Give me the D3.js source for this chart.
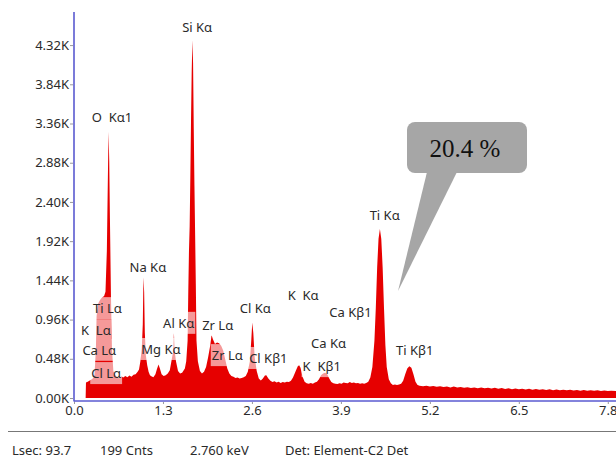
<!DOCTYPE html>
<html><head><meta charset="utf-8">
<script src="https://cdn.jsdelivr.net/npm/d3@7"></script>
<style>
html,body{margin:0;padding:0;background:#fff;}
svg{display:block;font-family:"Noto Sans",sans-serif;}
.lbl{white-space:pre;}
</style></head>
<body>
<svg id="c" width="616" height="459"></svg>
<script>
// Spectrum: energy (keV) and counts
const energy = [0.17,0.175,0.20,0.23,0.26,0.29,0.30,0.32,0.33,0.35,0.38,0.41,0.44,0.46,0.48,0.495,0.505,0.515,0.525,0.54,0.555,0.575,0.60,
 0.63,0.66,0.69,0.72,0.75,0.78,0.81,0.84,0.87,0.90,0.93,0.95,0.97,0.99,1.005,1.015,1.025,1.035,1.05,1.07,1.09,1.11,
 1.13,1.16,1.19,1.21,1.235,1.255,1.28,1.31,1.34,1.37,1.40,1.43,1.45,1.46,1.47,1.49,1.52,1.55,
 1.58,1.62,1.64,1.66,1.67,1.68,1.69,1.70,1.71,1.72,1.73,1.74,1.75,1.76,1.77,1.78,1.79,1.81,1.84,1.87,1.90,
 1.93,1.96,1.99,2.01,2.03,2.06,2.09,2.12,2.15,2.18,2.21,2.24,2.27,2.30,2.33,2.36,2.39,2.42,2.45,2.48,2.51,
 2.54,2.57,2.59,2.605,2.62,2.64,2.67,2.70,2.73,2.76,2.79,2.81,2.84,2.87,2.90,2.93,2.96,2.99,3.02,3.05,3.08,3.11,3.14,3.17,
 3.20,3.24,3.27,3.29,3.31,3.34,3.37,3.40,3.43,3.46,3.49,3.52,3.55,3.58,3.61,3.64,3.67,3.70,3.73,3.76,3.79,3.82,3.85,
 3.88,3.91,3.94,3.97,4.00,4.03,4.06,4.09,4.12,4.15,4.18,4.21,4.24,4.27,4.30,4.33,4.36,4.39,4.41,4.43,4.45,4.47,4.49,4.51,4.53,4.55,4.57,4.60,
 4.63,4.66,4.69,4.72,4.75,4.78,4.81,4.84,4.87,4.90,4.93,4.96,4.99,5.02,5.05,
 5.10,5.15,5.20,5.25,5.30,5.35,5.40,5.45,5.50,5.55,5.60,5.65,5.70,5.75,5.80,5.85,5.90,5.95,6.00,6.05,6.10,6.15,6.20,6.25,6.30,6.35,6.40,6.45,6.50,
 6.55,6.60,6.65,6.70,6.75,6.80,6.85,6.90,6.95,7.00,7.05,7.10,7.15,7.20,7.25,7.30,7.35,7.40,7.45,7.50,7.55,7.60,7.65,7.70,7.75,7.80,7.85,7.92];
const counts = [0,190,200,215,230,250,290,600,1000,1150,1200,1230,1250,1300,1800,2700,3260,2900,2200,1250,600,330,280,
 260,240,265,250,270,255,275,260,285,290,320,350,450,600,900,1480,1300,800,520,400,320,280,
 265,255,290,350,410,360,290,270,280,300,340,480,570,800,580,450,330,300,
 310,360,450,700,1300,1800,2100,2700,3400,4000,4380,4100,3300,2600,2000,1400,700,450,330,300,320,
 380,500,640,770,720,660,680,670,640,580,470,360,300,270,260,245,250,240,245,255,270,
 320,450,700,925,800,500,330,240,215,240,275,280,240,210,195,205,190,200,185,195,190,200,195,210,
 250,330,390,400,370,260,200,180,175,185,175,190,200,230,280,300,310,290,240,195,180,175,170,
 180,175,190,185,180,195,185,190,180,185,175,180,175,185,200,250,380,700,1100,1600,1950,2070,1950,1600,1100,650,380,230,
 180,160,165,160,165,175,210,290,360,390,370,290,200,160,150,
 145,150,140,148,138,145,135,142,130,140,128,136,125,133,122,130,120,128,118,126,115,124,112,122,110,118,108,116,106,
 114,104,112,102,110,100,108,98,106,96,104,95,102,94,100,92,99,90,98,89,96,88,94,87,92,86,90,85];

const yTicks = [0,480,960,1440,1920,2400,2880,3360,3840,4320];
const xTicks = [0,1.3,2.6,3.9,5.2,6.5,7.8];

// Peak labels: name, energy anchor (keV), count anchor
const labelNames  = ["Si Kα","O  Kα1","Na Kα","Ti Lα","K  Lα","Ca Lα","Cl Lα","Mg Kα","Al Kα","Zr Lα","Zr Lα","Cl Kα","Cl Kβ1","K  Kα","Ca Kβ1","Ca Kα","K  Kβ1","Ti Kα","Ti Kβ1"];
const labelEnergy = [1.80,0.555,1.08,0.49,0.32,0.37,0.47,1.27,1.53,2.10,2.24,2.65,2.84,3.35,4.04,3.72,3.62,4.54,4.98];
const labelCounts = [4540,3440,1600,1100,830,590,305,600,920,895,525,1100,490,1260,1050,670,390,2240,590];

const footer = ["Lsec: 93.7","199 Cnts","2.760 keV","Det: Element-C2 Det"];
const calloutText = "20.4 %";
const calloutTip = [4.735, 1310];

const svg = d3.select("#c");
const x = d3.scaleLinear().domain([0,7.92]).range([74,616]);
const y = d3.scaleLinear().domain([0,4725]).range([398,12]);

const pts = energy.map((e,i)=>[e,counts[i]]);
svg.append("path").datum(pts)
  .attr("fill","#e60000")
  .attr("d", d3.area().x(d=>x(d[0])).y0(y(0)).y1(d=>y(d[1])));

// axes
const axisColor = "#5a5ad0";
svg.append("line").attr("x1",74).attr("x2",74).attr("y1",12).attr("y2",401.5)
  .attr("stroke",axisColor).attr("stroke-width",1.6);
svg.append("line").attr("x1",74).attr("x2",616).attr("y1",401).attr("y2",401)
  .attr("stroke",axisColor).attr("stroke-width",1.6);

const gy = svg.append("g").attr("transform","translate(73,0)")
  .call(d3.axisLeft(y).tickValues(yTicks).tickFormat(d=>(d/1000).toFixed(2)+"K").tickSize(3).tickPadding(1));
gy.select(".domain").remove();
gy.selectAll("text").attr("fill","#2a2a2a").style("font-size","13px").style("font-family","Noto Sans");
gy.selectAll("line").attr("stroke","#999");

const gx = svg.append("g").attr("transform","translate(0,402)")
  .call(d3.axisBottom(x).tickValues(xTicks).tickFormat(d=>d.toFixed(1)).tickSize(2).tickPadding(2));
gx.select(".domain").remove();
gx.selectAll("text").attr("fill","#2a2a2a").style("font-size","13px").style("font-family","Noto Sans");
gx.selectAll("line").attr("stroke","#999");

// peak labels with translucent backgrounds (one translucent layer, so overlaps do not stack)
const bgLayer = svg.append("g").attr("opacity",0.6);
const txLayer = svg.append("g");
labelNames.forEach((t,i)=>{
  const tx = txLayer.append("text").attr("class","lbl")
    .attr("x", x(labelEnergy[i])).attr("y", y(labelCounts[i]))
    .attr("text-anchor","middle").attr("dominant-baseline","central")
    .attr("fill","#2a2a2a").style("font-size","13px").text(t);
  const b = tx.node().getBBox();
  bgLayer.append("rect").attr("x",b.x-1).attr("y",y(labelCounts[i])-11).attr("width",b.width+2).attr("height",22)
   .attr("fill","#fff");
});

// callout
const tipX = x(calloutTip[0]), tipY = y(calloutTip[1]);
const bx = 407, by = 122, bw = 120, bh = 51;
const cg = svg.append("g");
cg.append("path")
  .attr("d", `M${bx+20},${by+bh-1} L${tipX},${tipY} L${bx+50},${by+bh-1} Z`)
  .attr("fill","#a6a6a6");
cg.append("rect").attr("x",bx).attr("y",by).attr("width",bw).attr("height",bh)
  .attr("rx",8).attr("fill","#a6a6a6");
cg.append("text").attr("x",bx+bw/2-2).attr("y",by+bh/2+1)
  .attr("text-anchor","middle").attr("dominant-baseline","central")
  .style("font-family","'Liberation Serif','Times New Roman',serif").style("font-size","25px")
  .attr("fill","#111").text(calloutText);

// footer
svg.append("line").attr("x1",8).attr("x2",616).attr("y1",431.5).attr("y2",431.5)
  .attr("stroke","#777").attr("stroke-width",1);
const fx = [12,100,190,285];
footer.forEach((t,i)=>{
  svg.append("text").attr("x",fx[i]).attr("y",454.5)
    .attr("fill","#2a2a2a").style("font-size","13px").text(t);
});
</script>
</body></html>
